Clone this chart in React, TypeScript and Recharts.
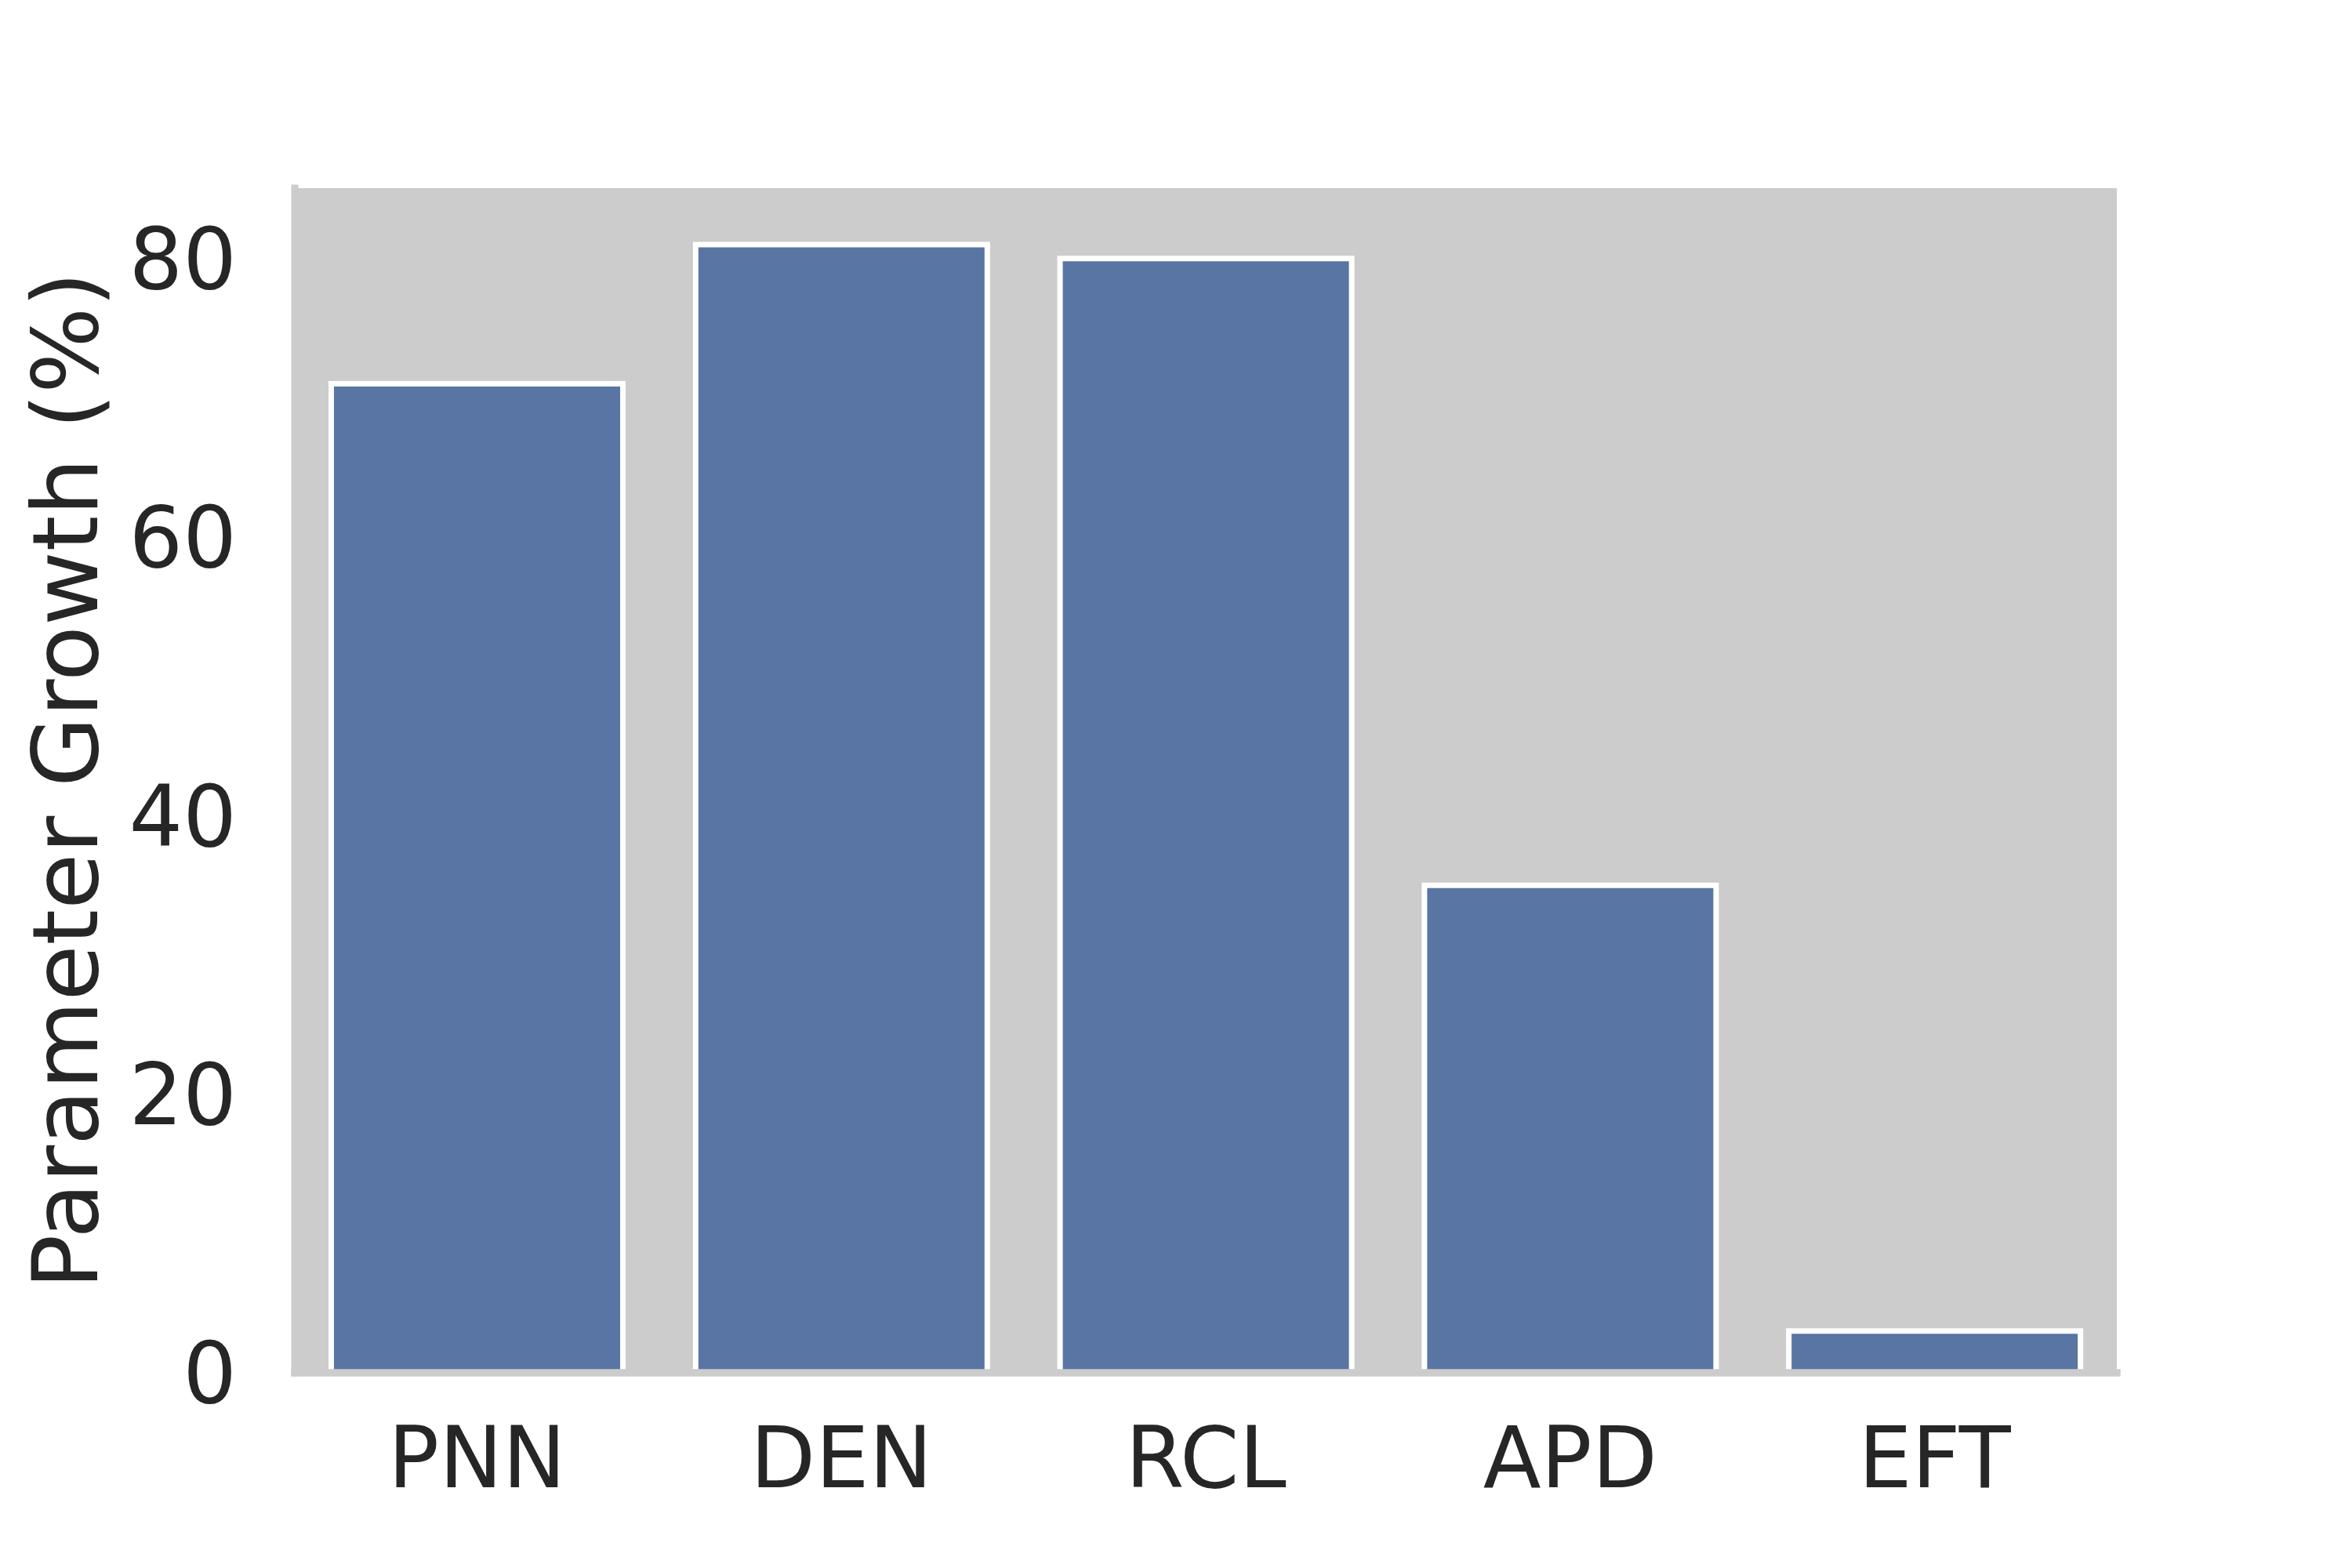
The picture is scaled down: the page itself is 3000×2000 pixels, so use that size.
import React from 'react';
import { BarChart, Bar, XAxis, YAxis, CartesianGrid, ReferenceLine } from 'recharts';

const categories = ['PNN', 'DEN', 'RCL', 'APD', 'EFT'];
const growthValues = [71, 81, 80, 35, 3];
const yTicks = [0, 20, 40, 60, 80];
const yMax = 85.05;
const yLabel = 'Parameter Growth (%)';

const data = categories.map((name, i) => ({ name, value: growthValues[i] }));

const FONT = '"DejaVu Sans", sans-serif';
const TEXT = '#262626';
const BG = '#cccccc';

const YLabel = (props: any) => {
  const vb = props.viewBox || { x: 0, y: 240, width: 376, height: 1511 };
  const cy = vb.y + vb.height / 2;
  const bx = 124;
  return (
    <text
      x={bx}
      y={cy}
      transform={`rotate(-90, ${bx}, ${cy})`}
      textAnchor="middle"
      fill={TEXT}
      fontFamily={FONT}
      fontSize={116}
    >
      {yLabel}
    </text>
  );
};

export default function App() {
  return (
    <div style={{ position: 'absolute', left: 0, top: 0, width: 3000, height: 2000, background: '#ffffff' }}>
      <BarChart
        width={3000}
        height={2000}
        data={data}
        margin={{ top: 240, right: 300, bottom: 0, left: 0 }}
        barCategoryGap="10%"
      >
        <CartesianGrid horizontal={false} vertical={false} fill={BG} stroke="none" />
        <XAxis
          dataKey="name"
          height={249}
          tickSize={0}
          tickMargin={69}
          tickLine={false}
          axisLine={{ stroke: BG, strokeWidth: 9, strokeLinecap: 'square' }}
          tick={{ fill: TEXT, fontFamily: FONT, fontSize: 108 }}
          interval={0}
        />
        <YAxis
          width={376}
          domain={[0, yMax]}
          ticks={yTicks}
          type="number"
          allowDataOverflow
          tickSize={0}
          tickMargin={74}
          tickLine={false}
          axisLine={{ stroke: BG, strokeWidth: 9, strokeLinecap: 'square' }}
          tick={{ fill: TEXT, fontFamily: FONT, fontSize: 108 }}
          label={{ content: YLabel }}
        />
        <Bar dataKey="value" fill="#5975a4" stroke="#ffffff" strokeWidth={7} isAnimationActive={false} />
        <ReferenceLine y={0} stroke={BG} strokeWidth={9} strokeLinecap="square" />
      </BarChart>
    </div>
  );
}
